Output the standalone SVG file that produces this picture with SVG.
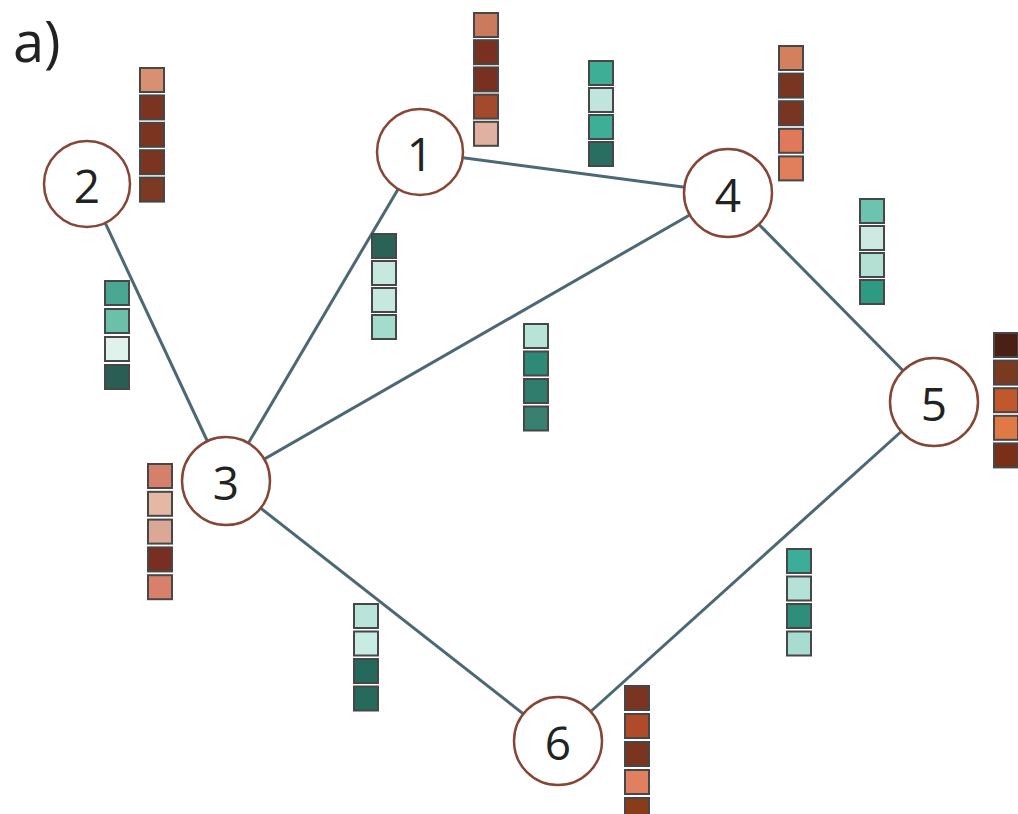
<svg xmlns="http://www.w3.org/2000/svg" width="1018" height="814" viewBox="0 0 1018 814">
<style>
.edge{stroke:#4b6874;stroke-width:3;fill:none}
.node{fill:#fff;stroke:#864636;stroke-width:2.5}
.num{font-family:"Open Sans","DejaVu Sans",sans-serif;font-weight:400;font-size:46px;fill:#222;text-anchor:middle;dominant-baseline:central}
.sq{stroke:#474747;stroke-width:2}
</style>
<rect width="1018" height="814" fill="#fff"/>
<text x="13" y="62" font-family="'Open Sans','DejaVu Sans',sans-serif" font-weight="400" font-size="56" fill="#222">a)</text>
<g id="connectors">
<line class="edge" x1="87" y1="184" x2="226" y2="481"/>
<line class="edge" x1="420" y1="152" x2="226" y2="481"/>
<line class="edge" x1="420" y1="152" x2="728" y2="193"/>
<line class="edge" x1="226" y1="481" x2="728" y2="193"/>
<line class="edge" x1="728" y1="193" x2="934" y2="402"/>
<line class="edge" x1="934" y1="402" x2="558" y2="741"/>
<line class="edge" x1="226" y1="481" x2="558" y2="741"/>
<g id="e23-stack" transform="translate(105,281)">
<rect class="sq" x="0" y="0" width="24" height="24" fill="#4aa892"/>
<rect class="sq" x="0" y="28" width="24" height="24" fill="#6cc0aa"/>
<rect class="sq" x="0" y="56" width="24" height="24" fill="#e0f2ec"/>
<rect class="sq" x="0" y="84" width="24" height="24" fill="#2a5e55"/>
</g>
<g id="e13-stack" transform="translate(372,234)">
<rect class="sq" x="0" y="0" width="24" height="24" fill="#2a6258"/>
<rect class="sq" x="0" y="27" width="24" height="24" fill="#c7e8df"/>
<rect class="sq" x="0" y="54" width="24" height="24" fill="#c7e8df"/>
<rect class="sq" x="0" y="81" width="24" height="24" fill="#a3dccc"/>
</g>
<g id="e14-stack" transform="translate(589,61)">
<rect class="sq" x="0" y="0" width="24" height="24" fill="#3fae96"/>
<rect class="sq" x="0" y="27" width="24" height="24" fill="#bfe5dc"/>
<rect class="sq" x="0" y="54" width="24" height="24" fill="#3fae96"/>
<rect class="sq" x="0" y="81" width="24" height="24" fill="#2a6e62"/>
</g>
<g id="e34-stack" transform="translate(524,324)">
<rect class="sq" x="0" y="0" width="24" height="24" fill="#b8e4d8"/>
<rect class="sq" x="0" y="27.5" width="24" height="24" fill="#2e8a76"/>
<rect class="sq" x="0" y="55" width="24" height="24" fill="#2e7d6d"/>
<rect class="sq" x="0" y="82.5" width="24" height="24" fill="#38806f"/>
</g>
<g id="e45-stack" transform="translate(860,199)">
<rect class="sq" x="0" y="0" width="24" height="24" fill="#6cc4ae"/>
<rect class="sq" x="0" y="27" width="24" height="24" fill="#cdeae2"/>
<rect class="sq" x="0" y="54" width="24" height="24" fill="#b4e0d4"/>
<rect class="sq" x="0" y="81" width="24" height="24" fill="#2f9a82"/>
</g>
<g id="e56-stack" transform="translate(787,549)">
<rect class="sq" x="0" y="0" width="24" height="24" fill="#3cae98"/>
<rect class="sq" x="0" y="27.5" width="24" height="24" fill="#b4e2d6"/>
<rect class="sq" x="0" y="55" width="24" height="24" fill="#2e8e7a"/>
<rect class="sq" x="0" y="82.5" width="24" height="24" fill="#a8dcd0"/>
</g>
<g id="e36-stack" transform="translate(354,604)">
<rect class="sq" x="0" y="0" width="24" height="24" fill="#b8e4da"/>
<rect class="sq" x="0" y="27.5" width="24" height="24" fill="#c8ece4"/>
<rect class="sq" x="0" y="55" width="24" height="24" fill="#24695c"/>
<rect class="sq" x="0" y="82.5" width="24" height="24" fill="#266a5c"/>
</g>
</g>
<g id="node1">
<circle class="node" cx="420" cy="152" r="43"/>
<text class="num" x="420" y="153">1</text>
<g transform="translate(474,13)">
<rect class="sq" x="0" y="0" width="24" height="24" fill="#cc7a5e"/>
<rect class="sq" x="0" y="27.2" width="24" height="24" fill="#7a3020"/>
<rect class="sq" x="0" y="54.4" width="24" height="24" fill="#7a3020"/>
<rect class="sq" x="0" y="81.6" width="24" height="24" fill="#a34a2c"/>
<rect class="sq" x="0" y="108.8" width="24" height="24" fill="#e0b0a0"/>
</g>
</g>
<g id="node2">
<circle class="node" cx="87" cy="184" r="43"/>
<text class="num" x="87" y="185">2</text>
<g transform="translate(140,68)">
<rect class="sq" x="0" y="0" width="24" height="24" fill="#d98f72"/>
<rect class="sq" x="0" y="27.4" width="24" height="24" fill="#7a3420"/>
<rect class="sq" x="0" y="54.8" width="24" height="24" fill="#7a3420"/>
<rect class="sq" x="0" y="82.2" width="24" height="24" fill="#7a3420"/>
<rect class="sq" x="0" y="109.6" width="24" height="24" fill="#7c3a22"/>
</g>
</g>
<g id="node3">
<circle class="node" cx="226" cy="481" r="44"/>
<text class="num" x="226" y="482">3</text>
<g transform="translate(148,464)">
<rect class="sq" x="0" y="0" width="24" height="24" fill="#d4806a"/>
<rect class="sq" x="0" y="27.8" width="24" height="24" fill="#e4b8a4"/>
<rect class="sq" x="0" y="55.6" width="24" height="24" fill="#dba898"/>
<rect class="sq" x="0" y="83.4" width="24" height="24" fill="#7a2e22"/>
<rect class="sq" x="0" y="111.2" width="24" height="24" fill="#d8806c"/>
</g>
</g>
<g id="node4">
<circle class="node" cx="728" cy="193" r="44"/>
<text class="num" x="728" y="194">4</text>
<g transform="translate(779,46)">
<rect class="sq" x="0" y="0" width="24" height="24" fill="#d4805f"/>
<rect class="sq" x="0" y="27.6" width="24" height="24" fill="#7a3422"/>
<rect class="sq" x="0" y="55.2" width="24" height="24" fill="#7a3422"/>
<rect class="sq" x="0" y="82.8" width="24" height="24" fill="#e0785a"/>
<rect class="sq" x="0" y="110.4" width="24" height="24" fill="#e07f5a"/>
</g>
</g>
<g id="node5">
<circle class="node" cx="934" cy="402" r="44"/>
<text class="num" x="934" y="403">5</text>
<g transform="translate(994,333)">
<rect class="sq" x="0" y="0" width="24" height="24" fill="#4a2014"/>
<rect class="sq" x="0" y="27.6" width="24" height="24" fill="#7a3a20"/>
<rect class="sq" x="0" y="55.2" width="24" height="24" fill="#c0582c"/>
<rect class="sq" x="0" y="82.8" width="24" height="24" fill="#e07a45"/>
<rect class="sq" x="0" y="110.4" width="24" height="24" fill="#7a3018"/>
</g>
</g>
<g id="node6">
<circle class="node" cx="558" cy="741" r="44"/>
<text class="num" x="558" y="742">6</text>
<g transform="translate(625,686)">
<rect class="sq" x="0" y="0" width="24" height="24" fill="#7a3420"/>
<rect class="sq" x="0" y="28" width="24" height="24" fill="#b04a2a"/>
<rect class="sq" x="0" y="56" width="24" height="24" fill="#7a3420"/>
<rect class="sq" x="0" y="84" width="24" height="24" fill="#e08060"/>
<rect class="sq" x="0" y="112" width="24" height="24" fill="#8a3c1a"/>
</g>
</g>
</svg>
